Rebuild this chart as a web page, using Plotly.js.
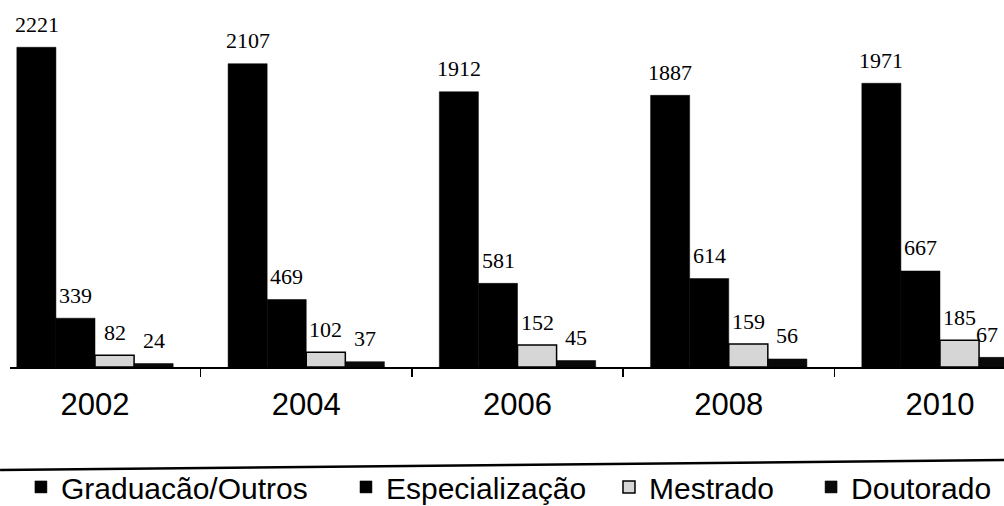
<!DOCTYPE html>
<html>
<head>
<meta charset="utf-8">
<script src="https://cdn.plot.ly/plotly-3.0.1.min.js"></script>
<style>html,body{margin:0;padding:0;background:#fff;}#chart{width:1004px;height:506px;}</style>
</head>
<body>
<div id="chart"></div>
<script>
const years = ["2002", "2004", "2006", "2008", "2010"];
const graduacao = [2221, 2107, 1912, 1887, 1971];
const especializacao = [339, 469, 581, 614, 667];
const mestrado = [82, 102, 152, 159, 185];
const doutorado = [24, 37, 45, 56, 67];
const seriesNames = ["Graduacão/Outros", "Especialização", "Mestrado", "Doutorado"];

const series = [graduacao, especializacao, mestrado, doutorado];
const fills = ["#000000", "#000000", "#d6d6d6", "#0a0a0a"];
const legendIds = ["legend", "legend2", "legend3", "legend4"];
const legendX = [0.011, 0.338, 0.6026, 0.8059];

const traces = series.map((vals, i) => ({
  type: "bar",
  name: seriesNames[i],
  x: years,
  y: vals,
  legend: legendIds[i],
  marker: {color: fills[i], line: {color: "#000", width: i === 2 ? 1.5 : 0.5}},
  hoverinfo: "x+y+name"
}));

const barPx = 39;
const annotations = [];
series.forEach((vals, i) => {
  vals.forEach((v, j) => {
    const isEdge = (j === years.length - 1 && i === series.length - 1);
    annotations.push({
      x: j, y: v, xref: "x", yref: "y",
      text: String(v), showarrow: false,
      xshift: (i - 1.5) * barPx + (isEdge ? 2 : 0), yshift: 23,
      yanchor: "middle", xanchor: isEdge ? "right" : "center",
      font: {family: "Liberation Serif", size: 22, color: "#000"}
    });
  });
});

const legendFont = {family: "Liberation Sans", size: 30, color: "#000"};
const layout = {
  width: 1004, height: 506,
  margin: {l: 10, r: 0, t: 10, b: 139, autoexpand: false},
  paper_bgcolor: "#fff", plot_bgcolor: "#fff",
  barmode: "group",
  bargap: 0.26, bargroupgap: 0,
  showlegend: true,
  xaxis: {
    type: "category",
    range: [-0.4024, 4.303],
    showline: true, linecolor: "#000", linewidth: 2,
    ticks: "outside", tickson: "boundaries", ticklen: 8, tickcolor: "#000", tickwidth: 1.5,
    ticklabelstandoff: 9,
    tickfont: {family: "Liberation Sans", size: 31, color: "#000"},
    showgrid: false, zeroline: false, fixedrange: true, automargin: false
  },
  yaxis: {
    range: [0, 2480], visible: false, showgrid: false, zeroline: false, fixedrange: true
  },
  shapes: [
    {type: "line", xref: "paper", yref: "paper", x0: -0.01, x1: 1.0, y0: -0.2885, y1: -0.2605,
     line: {color: "#000", width: 2.5}}
  ],
  annotations: annotations
};
legendIds.forEach((id, i) => {
  layout[id] = {
    orientation: "h", x: legendX[i], y: -0.336, xanchor: "left", yanchor: "middle",
    font: legendFont, itemwidth: 30, bgcolor: "rgba(0,0,0,0)"
  };
});

Plotly.newPlot("chart", traces, layout, {displayModeBar: false, staticPlot: true});
</script>
</body>
</html>
